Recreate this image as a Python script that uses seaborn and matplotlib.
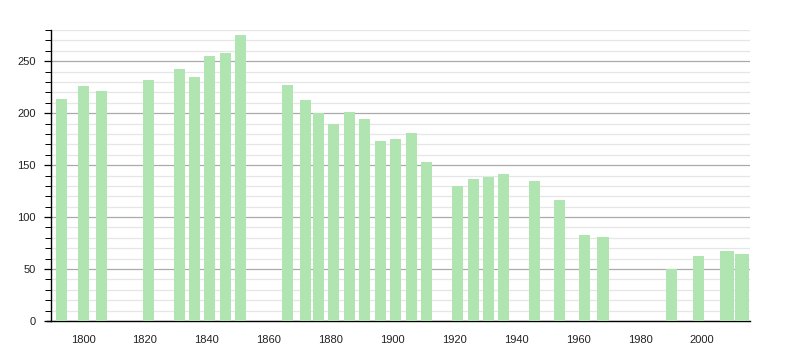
import matplotlib
matplotlib.use("Agg")
import matplotlib.pyplot as plt
import seaborn as sns
import pandas as pd
from matplotlib.ticker import MultipleLocator

years = [1793, 1800, 1806, 1821, 1831, 1836, 1841, 1846, 1851, 1866, 1872,
         1876, 1881, 1886, 1891, 1896, 1901, 1906, 1911, 1921, 1926, 1931,
         1936, 1946, 1954, 1962, 1968, 1990, 1999, 2008, 2013]
population = [214, 226, 221, 232, 243, 235, 255, 258, 275, 227, 213,
              200, 190, 201, 194, 173, 175, 181, 153, 130, 137, 139,
              141, 135, 116, 83, 81, 50, 63, 67, 64]
x_ticks = [1800, 1820, 1840, 1860, 1880, 1900, 1920, 1940, 1960, 1980, 2000]
y_ticks = [0, 50, 100, 150, 200, 250]

df = pd.DataFrame({"year": years, "population": population})

sns.set_theme(style="white")
plt.rcParams["font.family"] = ["Liberation Sans", "DejaVu Sans"]

fig = plt.figure(figsize=(8, 3.5), dpi=100)
ax = fig.add_axes([0.064, 0.083, 0.8735, 0.831])

sns.barplot(data=df, x="year", y="population", native_scale=True,
            width=0.89, color="#b0e4b0", saturation=1, ax=ax, zorder=3,
            edgecolor="none")

# last two bars drawn a little wider in the reference
for p in ax.patches[-2:]:
    c = p.get_x() + p.get_width() / 2
    p.set_width(4.6)
    p.set_x(c - 2.3)

ax.set_xlim(1789.7, 2015.5)
ax.set_ylim(0, 280)
ax.set_xticks(x_ticks)
ax.set_xticklabels([str(t) for t in x_ticks])
ax.set_yticks(y_ticks)
ax.yaxis.set_minor_locator(MultipleLocator(10))

ax.grid(which="major", axis="y", color="#aaaaaa", linewidth=0.9, zorder=1)
ax.grid(which="minor", axis="y", color="#e6e6e6", linewidth=0.9, zorder=0)
ax.grid(False, axis="x")
ax.set_axisbelow(True)

for s in ["top", "right"]:
    ax.spines[s].set_visible(False)
ax.spines["left"].set_color("black")
ax.spines["bottom"].set_color("black")
ax.spines["left"].set_linewidth(1.0)
ax.spines["bottom"].set_linewidth(1.0)

# bottom axis line extends slightly left of the y axis, as in the reference
ax.plot([-0.008, 0], [0, 0], transform=ax.transAxes, clip_on=False,
        color="black", linewidth=1.0, solid_capstyle="butt")

ax.tick_params(axis="y", which="major", left=True, length=5, width=0.9,
               color="black", labelsize=8, pad=6, labelcolor="#222222")
ax.tick_params(axis="y", which="minor", left=True, length=4, width=0.7,
               color="black")
ax.tick_params(axis="x", which="both", bottom=False, labelsize=8, pad=4,
               labelcolor="#222222")
ax.set_xlabel("")
ax.set_ylabel("")

fig.savefig("out.png", dpi=100)
